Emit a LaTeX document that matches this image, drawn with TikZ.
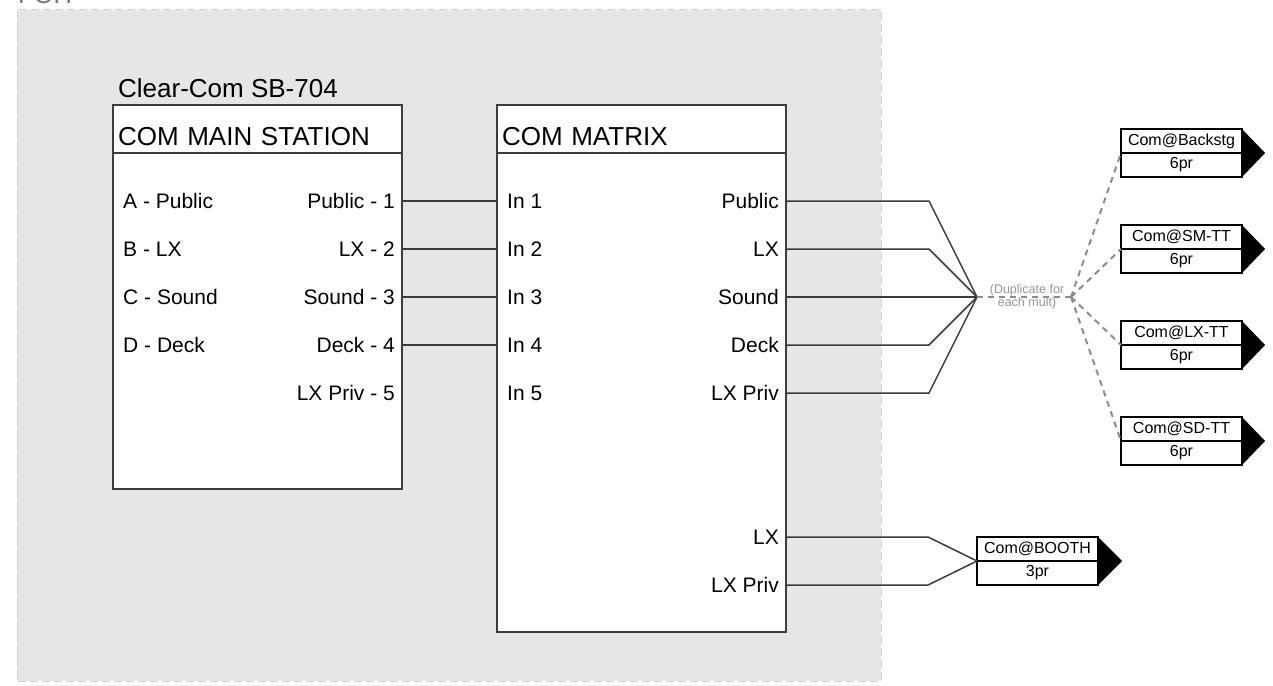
\documentclass[tikz,border=0pt]{standalone}
\usepackage{fontspec}
\setmainfont{Liberation Sans}
\usetikzlibrary{positioning}

\definecolor{wiregray}{RGB}{60,60,60}
\definecolor{areagray}{RGB}{230,230,230}
\definecolor{edgegray}{RGB}{210,210,210}
\definecolor{dupgray}{RGB}{140,140,140}
\definecolor{notegray}{RGB}{150,150,150}

\newcommand{\pxfont}[1]{\fontsize{#1}{#1}\selectfont}

\begin{document}
\begin{tikzpicture}[x=1pt,y=-1pt,
  box/.style={draw=wiregray,line width=1.5pt,fill=white,anchor=north west,inner sep=0pt,outer sep=0pt},
  head/.style={box,minimum width=289pt,minimum height=48pt,text width=279pt,inner xsep=5pt,inner ysep=8pt,text height=32pt,text depth=0pt,align=left,font=\pxfont{26}},
  lport/.style={anchor=west,inner xsep=10pt,inner ysep=0pt,text height=15pt,text depth=1pt,font=\pxfont{21}},
  rport/.style={lport,anchor=east,inner xsep=7pt},
  wire/.style={draw=wiregray,line width=1.5pt},
  dup/.style={draw=dupgray,line width=2pt,dash pattern=on 6pt off 5pt},
  dest/.style={draw=black,line width=1.3pt,fill=white,minimum width=121pt,minimum height=24pt,inner sep=0pt,outer sep=0pt,anchor=north west,font=\pxfont{16}},
  tip/.style={fill=black}]
\useasboundingbox (0,0) rectangle (1273,685);

% FOH area
\fill[areagray] (17,10) rectangle (881,681);
\draw[edgegray,line width=1pt,dash pattern=on 8pt off 4pt] (17,10) rectangle (881,681);
\node[anchor=base west,inner sep=0pt,text=black!55,font=\pxfont{25.5}] (foh) at (18,3.5) {FOH};

% main station
\node[anchor=base west,inner sep=0pt,font=\pxfont{26}] (model) at (118,97) {Clear-Com SB-704};
\node[box,minimum width=289pt,minimum height=384pt] (station) at (113,105) {};
\node[head] (stationhead) at (113,105) {COM MAIN STATION};
\node[lport] (sa) at (113,201) {A - Public};
\node[lport] (sb) at (113,249) {B - LX};
\node[lport] (sc) at (113,297) {C - Sound};
\node[lport] (sd) at (113,345) {D - Deck};
\node[rport] (s1) at (402,201) {Public - 1};
\node[rport] (s2) at (402,249) {LX - 2};
\node[rport] (s3) at (402,297) {Sound - 3};
\node[rport] (s4) at (402,345) {Deck - 4};
\node[rport] (s5) at (402,393) {LX Priv - 5};

% matrix
\node[box,minimum width=289pt,minimum height=527pt] (mtx) at (497,105) {};
\node[head] (mtxhead) at (497,105) {COM MATRIX};
\node[lport] (in1) at (497,201) {In 1};
\node[lport] (in2) at (497,249) {In 2};
\node[lport] (in3) at (497,297) {In 3};
\node[lport] (in4) at (497,345) {In 4};
\node[lport] (in5) at (497,393) {In 5};
\node[rport] (mpub) at (786,201) {Public};
\node[rport] (mlx) at (786,249) {LX};
\node[rport] (msnd) at (786,297) {Sound};
\node[rport] (mdeck) at (786,345) {Deck};
\node[rport] (mpriv) at (786,393) {LX Priv};
\node[rport] (blx) at (786,537) {LX};
\node[rport] (bpriv) at (786,585) {LX Priv};

\draw[wire] (s1.east) -- (in1.west);
\draw[wire] (s2.east) -- (in2.west);
\draw[wire] (s3.east) -- (in3.west);
\draw[wire] (s4.east) -- (in4.west);

% mults
\coordinate (fan) at (977,297);
\coordinate (split) at (1071,297);
\draw[wire] (mpub.east) -- ++(143,0) -- (fan);
\draw[wire] (mlx.east) -- ++(143,0) -- (fan);
\draw[wire] (msnd.east) -- (fan);
\draw[wire] (mdeck.east) -- ++(143,0) -- (fan);
\draw[wire] (mpriv.east) -- ++(143,0) -- (fan);
\draw[dup] (fan) -- (split);
\node[align=center,text=notegray,font=\fontsize{12.5}{11}\selectfont,inner sep=0pt] (dupnote) at (1027,297) {(Duplicate for\\each mult)};

\node[dest] (backstg) at (1121,129) {Com@Backstg};
\node[dest,below=0pt of backstg] (backstgpr) {6pr};
\node[dest] (smtt) at (1121,225) {Com@SM-TT};
\node[dest,below=0pt of smtt] (smttpr) {6pr};
\node[dest] (lxtt) at (1121,321) {Com@LX-TT};
\node[dest,below=0pt of lxtt] (lxttpr) {6pr};
\node[dest] (sdtt) at (1121,417) {Com@SD-TT};
\node[dest,below=0pt of sdtt] (sdttpr) {6pr};
\fill[tip] (backstg.north east) -- ++(23,24) -- (backstgpr.south east) -- cycle;
\fill[tip] (smtt.north east) -- ++(23,24) -- (smttpr.south east) -- cycle;
\fill[tip] (lxtt.north east) -- ++(23,24) -- (lxttpr.south east) -- cycle;
\fill[tip] (sdtt.north east) -- ++(23,24) -- (sdttpr.south east) -- cycle;
\draw[dup] (split) -- (backstg.south west);
\draw[dup] (split) -- (smtt.south west);
\draw[dup] (split) -- (lxtt.south west);
\draw[dup] (split) -- (sdtt.south west);

% booth
\node[dest] (booth) at (977,537) {Com@BOOTH};
\node[dest,below=0pt of booth] (boothpr) {3pr};
\fill[tip] (booth.north east) -- ++(24,24) -- (boothpr.south east) -- cycle;
\draw[wire] (blx.east) -- ++(142,0) -- (booth.south west);
\draw[wire] (bpriv.east) -- ++(142,0) -- (booth.south west);
\end{tikzpicture}
\end{document}
